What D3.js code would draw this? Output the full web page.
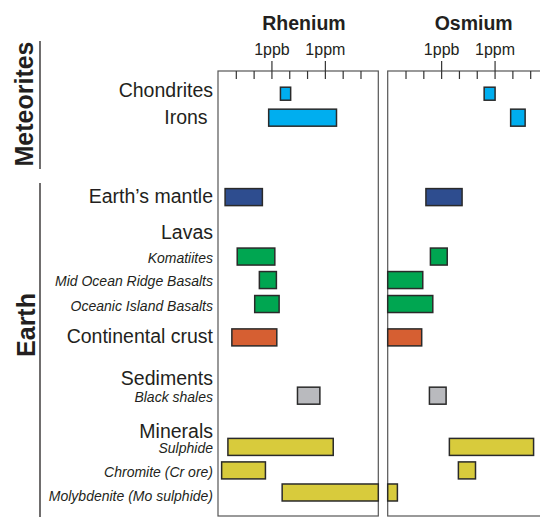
<!DOCTYPE html>
<html>
<head>
<meta charset="utf-8">
<script src="https://cdn.jsdelivr.net/npm/d3@7"></script>
<style>
  html, body { margin: 0; padding: 0; background: #fff; }
  svg { display: block; font-family: "Liberation Sans", Arial, Helvetica, sans-serif; }
</style>
</head>
<body>
<svg id="chart" width="540" height="517"></svg>
<script>
// ---------------- DATA (concentrations in ppb, i.e. 1e-9 g/g) ----------------
const categories = ["Chondrites", "Irons", "Earth\u2019s mantle", "Komatiites",
  "Mid Ocean Ridge Basalts", "Oceanic Island Basalts", "Continental crust",
  "Black shales", "Sulphide", "Chromite (Cr ore)", "Molybdenite (Mo sulphide)"];
const kinds = ["meteorite", "meteorite", "mantle", "lava", "lava", "lava", "crust",
  "sediment", "mineral", "mineral", "mineral"];
const headers = ["Lavas", "Sediments", "Minerals"];
const groups = ["Meteorites", "Earth"];
const elements = ["Rhenium", "Osmium"];
const tickLabels = ["1ppb", "1ppm"];
const tickLabelValues = [1, 1000];

const rheniumLow  = [3.2, 0.7, 0.0025, 0.012, 0.21, 0.115, 0.006, 29, 0.0036, 0.0016, 4];
const rheniumHigh = [12, 4500, 0.31, 1.55, 1.9, 2.7, 2.0, 525, 2950, 0.46, 1000000];
const osmiumLow   = [260, 8000, 0.14, 0.25, 0.001, 0.001, 0.001, 0.22, 2.9, 9.3, 0.001];
const osmiumHigh  = [1070, 52000, 15, 2.2, 0.093, 0.34, 0.081, 1.9, 155000, 85, 0.0035];

// ---------------- LAYOUT ----------------
const svg = d3.select("#chart");
const ink = "#231f20";
const frameTop = 71, frameBottom = 516;
const panelWidth = 160.3;
const panelLefts = [218, 387.7];
const domain = [1e-3, 1e6];

// vertical slot of each row (labels + headers), in row units
const rowSlot = {
  "Chondrites": 0, "Irons": 1.02, "Earth\u2019s mantle": 4.40, "Lavas": 5.94,
  "Komatiites": 6.93, "Mid Ocean Ridge Basalts": 7.93, "Oceanic Island Basalts": 8.95,
  "Continental crust": 10.37, "Sediments": 12.14, "Black shales": 12.85,
  "Minerals": 14.41, "Sulphide": 15.03, "Chromite (Cr ore)": 16.03,
  "Molybdenite (Mo sulphide)": 16.97
};
// small label-only nudges (px) relative to the bar row
const labelNudge = { "Chondrites": -3, "Molybdenite (Mo sulphide)": 3, "Chromite (Cr ore)": 1,
  "Oceanic Island Basalts": 1, "Minerals": -0.5, "Sulphide": 0.5 };
const y = d3.scaleLinear().domain([0, 17]).range([93.7, 493.2]);

const color = d3.scaleOrdinal()
  .domain(["meteorite", "mantle", "lava", "crust", "sediment", "mineral"])
  .range(["#00aeef", "#2e4d8f", "#00a651", "#d65f32", "#b9babe", "#d8cb3c"]);

const italicKinds = new Set(["lava", "sediment", "mineral"]);

// ---------------- ROW LABELS ----------------
const labelX = 213;
const rowLabels = categories.map((c, i) => ({ text: c, italic: italicKinds.has(kinds[i]), key: c }))
  .concat(headers.map(h => ({ text: h, italic: false, key: h })));

svg.append("g").selectAll("text").data(rowLabels).join("text")
  .attr("x", d => d.key === "Irons" ? labelX - 5.4 : labelX)
  .attr("y", d => y(rowSlot[d.key]) + 6 + (labelNudge[d.key] || 0))
  .attr("text-anchor", "end")
  .attr("fill", ink)
  .style("font-size", d => d.italic ? "14px" : "19.5px")
  .style("font-style", d => d.italic ? "italic" : "normal")
  .text(d => d.text);

// ---------------- GROUP LABELS ----------------
const groupSpan = [[41, 169], [183, 517]];
const groupCenter = [104, 325];
groups.forEach((g, i) => {
  svg.append("line")
    .attr("x1", 40).attr("x2", 40)
    .attr("y1", groupSpan[i][0]).attr("y2", groupSpan[i][1])
    .attr("stroke", ink).attr("stroke-width", 1.3);
  svg.append("text")
    .attr("transform", `translate(${i === 0 ? 33.3 : 34.5},${groupCenter[i]}) rotate(-90)`)
    .attr("text-anchor", "middle")
    .attr("fill", ink)
    .style("font-size", "25px")
    .style("font-weight", "bold")
    .text(g);
});

// ---------------- PANELS ----------------
const lows = [rheniumLow, osmiumLow];
const highs = [rheniumHigh, osmiumHigh];

elements.forEach((el, p) => {
  const x0 = panelLefts[p];
  const x = d3.scaleLog().domain(domain).range([x0, x0 + panelWidth]).clamp(true);
  const g = svg.append("g");

  // title
  g.append("text")
    .attr("x", x0 + 86).attr("y", 29.5)
    .attr("text-anchor", "middle")
    .attr("fill", ink)
    .style("font-size", "19.5px")
    .style("font-weight", "bold")
    .text(el);

  // frame
  g.append("rect")
    .attr("x", x0).attr("y", frameTop)
    .attr("width", panelWidth).attr("height", frameBottom - frameTop)
    .attr("fill", "none").attr("stroke", "#555").attr("stroke-width", 1.2);

  // minor ticks (every decade, pointing inward)
  const decades = d3.range(-2, 6).map(e => Math.pow(10, e));
  const minorAxis = d3.axisTop(x).tickValues(decades).tickSize(-8).tickFormat("");
  const ma = g.append("g").attr("transform", `translate(0,${frameTop})`).call(minorAxis);
  ma.select(".domain").remove();
  ma.selectAll(".tick line").attr("stroke", "#333").attr("stroke-width", 1.2);

  // major ticks with labels
  const majorAxis = d3.axisTop(x).tickValues(tickLabelValues).tickSize(10).tickPadding(6)
    .tickFormat((d, i) => tickLabels[i]);
  const mj = g.append("g").attr("transform", `translate(0,${frameTop})`).call(majorAxis);
  mj.select(".domain").remove();
  mj.selectAll(".tick line").attr("stroke", "#333").attr("stroke-width", 1.2);
  mj.selectAll(".tick text")
    .attr("fill", ink)
    .style("font-size", "16px")
    .style("font-family", "\"Liberation Sans\", Arial, sans-serif");

  // bars
  const bars = categories.map((c, i) => ({ c, kind: kinds[i], lo: lows[p][i], hi: highs[p][i] }));
  g.append("g").selectAll("rect").data(bars).join("rect")
    .attr("x", d => x(d.lo))
    .attr("width", d => x(d.hi) - x(d.lo))
    .attr("y", d => y(rowSlot[d.c]) - (d.c === "Chondrites" ? 6.5 : 8.5))
    .attr("height", d => d.c === "Chondrites" ? 13 : 17)
    .attr("fill", d => color(d.kind))
    .attr("stroke", "#2a2a2a")
    .attr("stroke-width", 1.5);
});
</script>
</body>
</html>
